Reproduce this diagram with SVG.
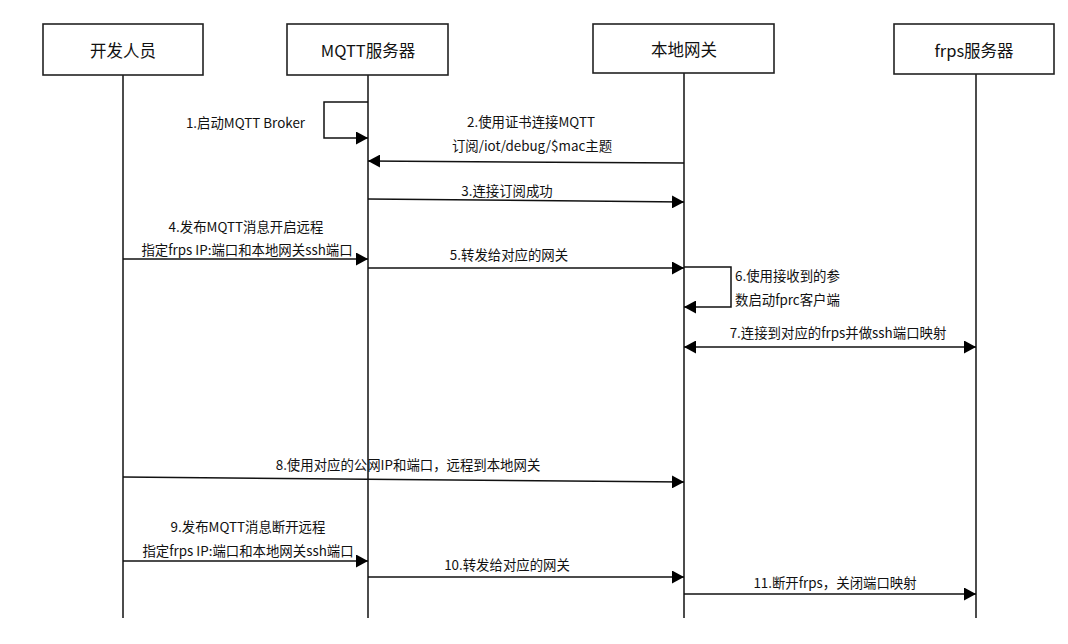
<svg xmlns="http://www.w3.org/2000/svg" width="1068" height="644" viewBox="0 0 1068 644">
<style>
.box{fill:#fff;stroke:#222;stroke-width:1.6}
.life{stroke:#111;stroke-width:1.5;fill:none}
.msg{stroke:#111;stroke-width:1.5;fill:none}
.hd{font-family:"Noto Sans CJK SC","Noto Sans",sans-serif;font-size:16.5px;fill:#111;text-anchor:middle}
.lb{font-family:"Noto Sans CJK SC","Noto Sans",sans-serif;font-size:13.4px;fill:#111}
.c{text-anchor:middle}
</style>
<defs>
<marker id="ah" markerUnits="userSpaceOnUse" markerWidth="12" markerHeight="13" refX="12" refY="6.5" orient="auto-start-reverse">
<path d="M0,0 L12,6.5 L0,13 z" fill="#000"/>
</marker>
</defs>
<rect width="1068" height="644" fill="#fff"/>
<g id="lifelines">
<line class="life" x1="123" y1="75" x2="123" y2="618"/>
<line class="life" x1="368" y1="75" x2="368" y2="618"/>
<line class="life" x1="684" y1="73" x2="684" y2="618"/>
<line class="life" x1="976" y1="74" x2="976" y2="618"/>
</g>
<g id="node-dev"><rect class="box" x="43" y="24" width="160" height="51"/><text class="hd" x="123" y="57">开发人员</text></g>
<g id="node-mqtt"><rect class="box" x="287" y="24" width="161" height="51"/><text class="hd" x="368" y="57">MQTT服务器</text></g>
<g id="node-gw"><rect class="box" x="593" y="24" width="181" height="49"/><text class="hd" x="684" y="56">本地网关</text></g>
<g id="node-frps"><rect class="box" x="894" y="24" width="160" height="50"/><text class="hd" x="974" y="57">frps服务器</text></g>
<g id="connectors">
<polyline class="msg" points="368,102 324,102 324,138 368,138" marker-end="url(#ah)"/>
<line class="msg" x1="684" y1="163" x2="368" y2="161" marker-end="url(#ah)"/>
<line class="msg" x1="368" y1="199" x2="684" y2="202" marker-end="url(#ah)"/>
<line class="msg" x1="123" y1="259" x2="368" y2="259" marker-end="url(#ah)"/>
<line class="msg" x1="368" y1="268" x2="684" y2="268" marker-end="url(#ah)"/>
<polyline class="msg" points="684,267 731,267 731,307 684,307" marker-end="url(#ah)"/>
<line class="msg" x1="684" y1="347" x2="976" y2="347" marker-start="url(#ah)" marker-end="url(#ah)"/>
<line class="msg" x1="123" y1="477" x2="684" y2="482" marker-end="url(#ah)"/>
<line class="msg" x1="123" y1="561" x2="368" y2="561" marker-end="url(#ah)"/>
<line class="msg" x1="368" y1="577" x2="684" y2="577" marker-end="url(#ah)"/>
<line class="msg" x1="684" y1="594" x2="976" y2="594" marker-end="url(#ah)"/>
</g>
<g id="labels">
<text class="lb" x="305" y="128" text-anchor="end">1.启动MQTT Broker</text>
<text class="lb c" x="531" y="127">2.使用证书连接MQTT</text>
<text class="lb c" x="532" y="151">订阅/iot/debug/$mac主题</text>
<text class="lb c" x="507" y="196">3.连接订阅成功</text>
<text class="lb c" x="246" y="232">4.发布MQTT消息开启远程</text>
<text class="lb c" x="247" y="255">指定frps IP:端口和本地网关ssh端口</text>
<text class="lb c" x="509" y="260">5.转发给对应的网关</text>
<text class="lb" x="735" y="281">6.使用接收到的参</text>
<text class="lb" x="735" y="305">数启动fprc客户端</text>
<text class="lb c" x="838" y="338">7.连接到对应的frps并做ssh端口映射</text>
<text class="lb c" x="408" y="470">8.使用对应的公网IP和端口，远程到本地网关</text>
<text class="lb c" x="248" y="532">9.发布MQTT消息断开远程</text>
<text class="lb c" x="248" y="556">指定frps IP:端口和本地网关ssh端口</text>
<text class="lb c" x="507" y="570">10.转发给对应的网关</text>
<text class="lb c" x="835" y="588">11.断开frps，关闭端口映射</text>
</g>
</svg>
